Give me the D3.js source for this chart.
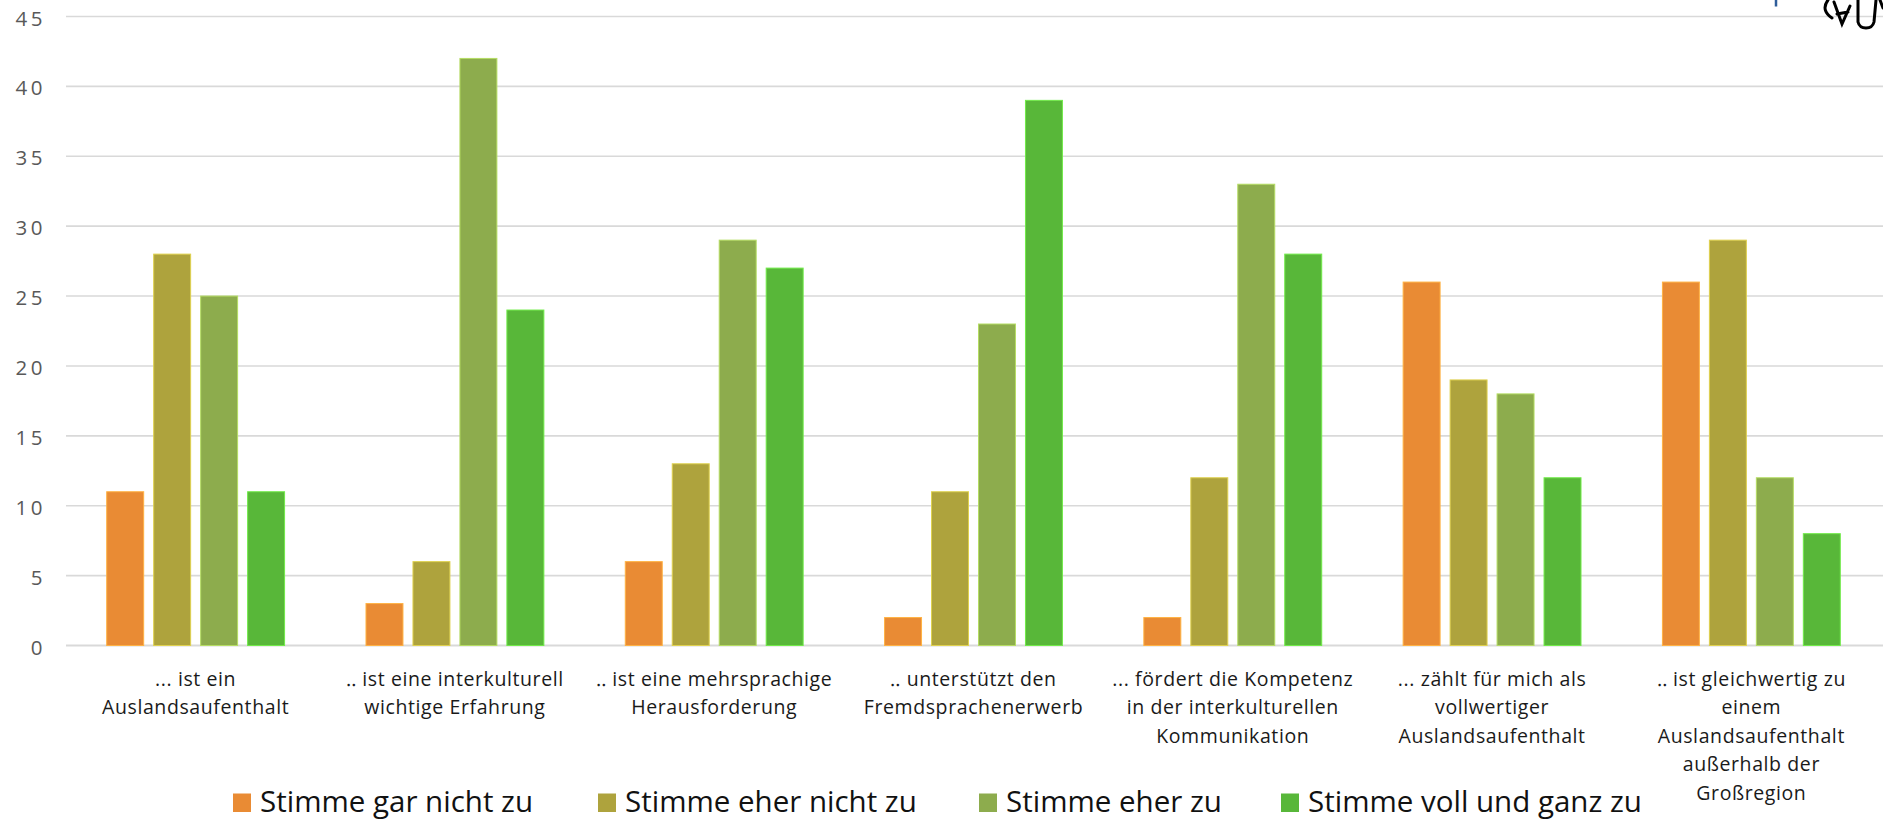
<!DOCTYPE html>
<html lang="de">
<head>
<meta charset="utf-8">
<script src="https://cdn.jsdelivr.net/npm/d3@7"></script>
<style>
  html, body { margin: 0; padding: 0; background: #ffffff; }
  svg { display: block; }
</style>
</head>
<body>
<svg id="chart" width="1883" height="820"></svg>
<script>
// Statements, one per group (already broken into display lines)
const categories = [
  ["... ist ein", "Auslandsaufenthalt"],
  ["\u2025 ist eine interkulturell", "wichtige Erfahrung"],
  ["\u2025 ist eine mehrsprachige", "Herausforderung"],
  ["\u2025 unterstützt den", "Fremdsprachenerwerb"],
  ["... fördert die Kompetenz", "in der interkulturellen", "Kommunikation"],
  ["... zählt für mich als", "vollwertiger", "Auslandsaufenthalt"],
  ["\u2025 ist gleichwertig zu", "einem", "Auslandsaufenthalt", "außerhalb der", "Großregion"]
];

// Answer scale
const seriesNames = ["Stimme gar nicht zu", "Stimme eher nicht zu", "Stimme eher zu", "Stimme voll und ganz zu"];
const seriesColors = ["#E98B34", "#AEA33D", "#8DAC4D", "#58B739"];

// Counts per statement for each answer
const garNichtZu   = [11,  3,  6,  2,  2, 26, 26];
const eherNichtZu  = [28,  6, 13, 11, 12, 19, 29];
const eherZu       = [25, 42, 29, 23, 33, 18, 12];
const vollUndGanz  = [11, 24, 27, 39, 28, 12,  8];

const yTicks = [0, 5, 10, 15, 20, 25, 30, 35, 40, 45];

const seriesValues = [garNichtZu, eherNichtZu, eherZu, vollUndGanz];

const svg = d3.select("#chart");
const plot = { left: 66, right: 1881, top: 16.5, bottom: 645.5 };

const x0 = d3.scaleBand()
  .domain(d3.range(categories.length))
  .range([plot.left, plot.right])
  .paddingInner(0.314)
  .paddingOuter(0.157);

const x1 = d3.scaleBand()
  .domain(d3.range(seriesNames.length))
  .range([0, x0.bandwidth()])
  .paddingInner(0.213)
  .paddingOuter(0);

const y = d3.scaleLinear().domain([0, 45]).range([plot.bottom, plot.top]);

// Horizontal gridlines
svg.append("g")
  .selectAll("line")
  .data(yTicks)
  .join("line")
  .attr("x1", plot.left)
  .attr("x2", 1883)
  .attr("y1", d => y(d))
  .attr("y2", d => y(d))
  .attr("stroke", "#d9d9d9")
  .attr("stroke-width", d => d === 0 ? 2.2 : 1.6);

// Y axis labels
const yAxis = d3.axisLeft(y).tickValues(yTicks).tickSize(0).tickPadding(0);
const yg = svg.append("g").attr("transform", "translate(46,2)").call(yAxis);
yg.select(".domain").remove();
yg.selectAll("text")
  .attr("fill", "#595959")
  .style("font-family", "'Open Sans', sans-serif")
  .style("font-size", "20.5px")
  .style("letter-spacing", "3.5px");

// Bars
const groups = svg.append("g")
  .selectAll("g")
  .data(categories.map((c, i) => i))
  .join("g")
  .attr("transform", i => `translate(${x0(i)},0)`);

groups.selectAll("rect")
  .data(i => seriesValues.map((vals, s) => ({ s, v: vals[i] })))
  .join("rect")
  .attr("x", d => x1(d.s))
  .attr("width", x1.bandwidth())
  .attr("y", d => y(d.v))
  .attr("height", d => y(0) - y(d.v))
  .attr("fill", d => seriesColors[d.s])
  .attr("stroke", d => d3.color(seriesColors[d.s]).brighter(0.7))
  .attr("stroke-width", 1);

// Category labels under the groups
const labelGroup = svg.append("g")
  .style("font-family", "'Open Sans', sans-serif")
  .style("font-size", "19.5px")
  .style("letter-spacing", "0.6px")
  .attr("fill", "#1a1a1a")
  .attr("text-anchor", "middle");

categories.forEach((lines, i) => {
  const t = labelGroup.append("text")
    .attr("x", x0(i) + x0.bandwidth() / 2)
    .attr("y", 686);
  t.selectAll("tspan")
    .data(lines)
    .join("tspan")
    .attr("x", x0(i) + x0.bandwidth() / 2)
    .attr("dy", (d, k) => k === 0 ? 0 : 28.4)
    .text(d => d);
});

// Legend
const legendX = [233, 598, 979, 1281];
const legend = svg.append("g")
  .style("font-family", "'Open Sans', sans-serif")
  .style("font-size", "29.5px");

seriesNames.forEach((name, s) => {
  const g = legend.append("g").attr("transform", `translate(${legendX[s]},0)`);
  g.append("rect")
    .attr("x", 0).attr("y", 793.5)
    .attr("width", 18).attr("height", 18.5)
    .attr("fill", seriesColors[s]);
  g.append("text")
    .attr("x", 27).attr("y", 812)
    .attr("fill", "#111111")
    .text(name);
});

// Corner emblem, cut by the top edge
const emblem = svg.append("g");
emblem.append("line")
  .attr("x1", 1776).attr("x2", 1776)
  .attr("y1", 0).attr("y2", 6.5)
  .attr("stroke", "#2f5d9a").attr("stroke-width", 2.5);
emblem.append("path")
  .attr("d", "M1828,0 C1822,8 1826,14 1832,18 M1834,2 L1842,24 L1850,6 M1837,14 L1848,12 M1858,0 L1858,22 C1860,30 1872,30 1874,22 L1876,0 M1880,0 L1883,8")
  .attr("fill", "none")
  .attr("stroke", "#000000")
  .attr("stroke-width", 3)
  .attr("stroke-linecap", "round");
</script>
</body>
</html>
